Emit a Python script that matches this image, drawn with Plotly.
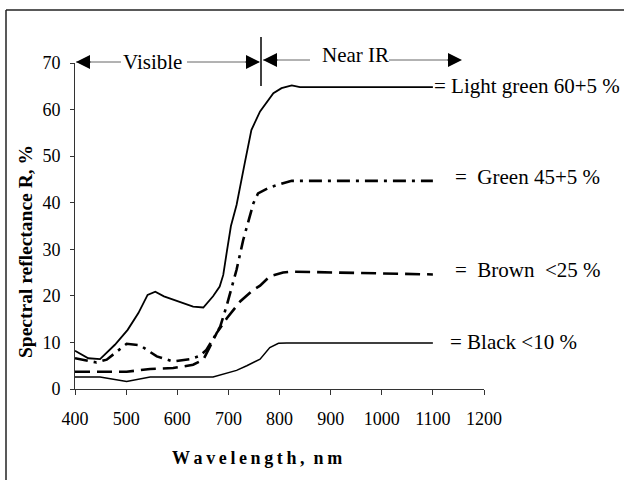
import plotly.graph_objects as go

# ---- data ----
wl_light = [400, 426, 449, 478, 503, 524, 542, 557, 574, 593, 631, 651, 670, 683, 690, 697, 705, 716, 723, 732, 745, 762, 788, 804, 824, 840, 1100]
r_light = [8.2, 6.6, 6.4, 9.5, 12.7, 16.3, 20.2, 20.9, 19.9, 19.2, 17.7, 17.5, 19.9, 22.0, 24.5, 29.5, 35.0, 39.5, 43.8, 48.5, 55.6, 59.6, 63.5, 64.6, 65.2, 64.8, 64.8]

wl_green = [400, 442, 462, 482, 501, 527, 560, 592, 625, 644, 657, 670, 684, 697, 716, 729, 749, 758, 781, 807, 824, 1100]
r_green = [6.6, 5.7, 6.3, 8.1, 9.7, 9.4, 7.0, 5.9, 6.4, 7.1, 8.4, 10.7, 13.4, 18.0, 25.6, 32.0, 39.9, 42.0, 43.3, 44.2, 44.7, 44.7]

wl_brown = [400, 501, 547, 592, 631, 651, 664, 677, 697, 723, 749, 762, 781, 807, 824, 1100]
r_brown = [3.7, 3.7, 4.3, 4.5, 5.2, 6.3, 9.1, 12.0, 15.2, 18.8, 21.3, 22.2, 24.2, 25.0, 25.2, 24.6]

wl_black = [400, 449, 501, 547, 670, 696, 716, 736, 762, 781, 798, 814, 1100]
r_black = [2.6, 2.6, 1.6, 2.6, 2.6, 3.4, 4.0, 5.0, 6.4, 8.9, 9.8, 9.9, 9.9]

series_labels = ["= Light green 60+5 %", "=\u00a0 Green 45+5 %", "=\u00a0 Brown\u00a0 <25 %", "= Black <10 %"]
x_ticks = [400, 500, 600, 700, 800, 900, 1000, 1100, 1200]
y_ticks = [0, 10, 20, 30, 40, 50, 60, 70]

FONT = "Liberation Serif, Times New Roman, serif"
W, H = 624, 480
ML, MR, MT, MB = 75, 140, 63, 91
PW, PH = W - ML - MR, H - MT - MB


def px_x(px):
    return (px - ML) / PW


def px_y(py):
    return (H - MB - py) / PH


fig = go.Figure()
fig.add_trace(go.Scatter(x=wl_light, y=r_light, mode="lines",
                         line=dict(color="black", width=1.8), showlegend=False))
fig.add_trace(go.Scatter(x=wl_green, y=r_green, mode="lines",
                         line=dict(color="black", width=2.6, dash="13px,6px,3px,6px"), showlegend=False))
fig.add_trace(go.Scatter(x=wl_brown, y=r_brown, mode="lines",
                         line=dict(color="black", width=2.6, dash="15px,7px"), showlegend=False))
fig.add_trace(go.Scatter(x=wl_black, y=r_black, mode="lines",
                         line=dict(color="black", width=1.5), showlegend=False))

annotations = []
# right-side labels
label_pos = [(1098, 65.0), (1140, 45.6), (1140, 25.6), (1130, 10.2)]
for txt, (lx, ly) in zip(series_labels, label_pos):
    annotations.append(dict(x=lx, y=ly, xref="x", yref="y", text=txt, showarrow=False,
                            xanchor="left", yanchor="middle",
                            font=dict(family=FONT, size=21, color="black")))

# axis titles
annotations.append(dict(x=px_x(257), y=px_y(458), xref="paper", yref="paper",
                        text="\u2009".join(list("Wavelength,")) + "\u2002" + "\u2009".join(list("nm")),
                        showarrow=False, xanchor="center", yanchor="middle",
                        font=dict(family=FONT, size=18, color="black", weight="bold")))
annotations.append(dict(x=px_x(25), y=px_y(252), xref="paper", yref="paper",
                        text="Spectral reflectance R, %", textangle=-90,
                        showarrow=False, xanchor="center", yanchor="middle",
                        font=dict(family=FONT, size=19.5, color="black", weight="bold")))

# region texts
annotations.append(dict(x=px_x(152), y=px_y(62), xref="paper", yref="paper", text="Visible",
                        showarrow=False, xanchor="center", yanchor="middle",
                        font=dict(family=FONT, size=21, color="black")))
annotations.append(dict(x=px_x(355), y=px_y(55), xref="paper", yref="paper", text="Near IR",
                        showarrow=False, xanchor="center", yanchor="middle",
                        font=dict(family=FONT, size=21, color="black")))

# arrow heads
heads = [(76, 62, 16), (260, 62, -16), (263, 60, 16), (462, 60, -16)]
for hx, hy, off in heads:
    annotations.append(dict(x=px_x(hx), y=px_y(hy), xref="paper", yref="paper", text="",
                            showarrow=True, ax=off, ay=0, axref="pixel", ayref="pixel",
                            arrowhead=2, arrowsize=2.8, arrowwidth=1, arrowcolor="black"))

shapes = []
seg = [(76, 121, 62), (187, 259, 62), (263, 310, 60), (389, 460, 60)]
for x0, x1, yy in seg:
    shapes.append(dict(type="line", xref="paper", yref="paper",
                       x0=px_x(x0), x1=px_x(x1), y0=px_y(yy), y1=px_y(yy),
                       line=dict(color="#666666", width=1)))
# divider
shapes.append(dict(type="line", xref="paper", yref="paper", x0=px_x(261), x1=px_x(261),
                   y0=px_y(37), y1=px_y(86), line=dict(color="black", width=1.5)))
# outer frame (left and top)
shapes.append(dict(type="line", xref="paper", yref="paper", x0=px_x(6), x1=px_x(6),
                   y0=px_y(10), y1=px_y(485), line=dict(color="#222222", width=1.5)))
shapes.append(dict(type="line", xref="paper", yref="paper", x0=px_x(6), x1=px_x(630),
                   y0=px_y(10), y1=px_y(10), line=dict(color="#222222", width=1.5)))

fig.update_layout(
    width=W, height=H, autosize=False,
    margin=dict(l=ML, r=MR, t=MT, b=MB, pad=0),
    paper_bgcolor="white", plot_bgcolor="white",
    font=dict(family=FONT, size=18, color="black"),
    annotations=annotations, shapes=shapes,
    xaxis=dict(range=[400, 1200], tickvals=x_ticks, ticktext=[str(v) for v in x_ticks],
               showgrid=False, zeroline=False, showline=True, linecolor="#333333", linewidth=1,
               ticks="outside", ticklen=5, tickcolor="#333333", tickfont=dict(size=18),
               ticklabelstandoff=8),
    yaxis=dict(range=[0, 70], tickvals=y_ticks, ticktext=[str(v) for v in y_ticks],
               showgrid=False, zeroline=False, showline=True, linecolor="#333333", linewidth=1,
               ticks="outside", ticklen=4, tickcolor="#333333", tickfont=dict(size=18),
               ticklabelstandoff=6),
)

fig.write_html("out.html")
